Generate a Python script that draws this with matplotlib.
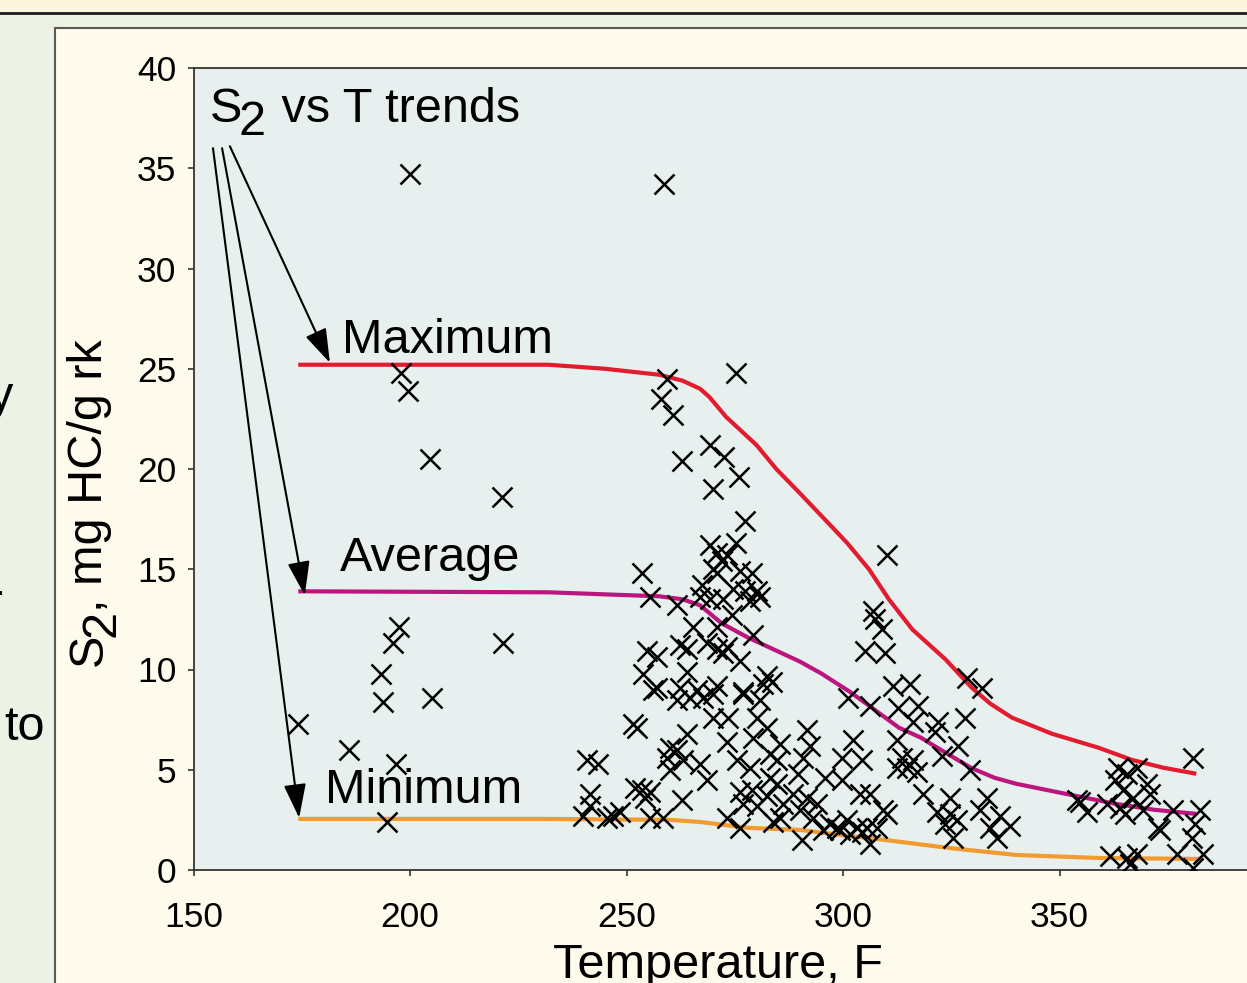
import matplotlib
matplotlib.use("Agg")
import matplotlib.pyplot as plt
from matplotlib.patches import Rectangle
from matplotlib.lines import Line2D

plt.rcParams['font.family'] = ['Liberation Sans', 'DejaVu Sans']

# S2 vs T 数据
temp_F = [
    # 左侧和上方的零散点
    200.0, 258.6, 275.3, 197.9, 199.5, 204.6, 221.2, 259.3, 257.9, 260.7,
    269.3, 272.5, 262.8, 276.0, 270.0, 174.2, 186.0, 193.8, 193.3, 196.1,
    197.5, 205.1, 196.8, 194.7, 221.5, 310.1,
    # 250-285 F 上部
    277.3, 269.3, 275.3, 270.9, 270.0, 272.0, 273.2, 270.9, 276.2, 279.0,
    253.6, 267.4, 274.6, 277.3, 280.1, 280.8, 278.5, 255.4, 261.6, 266.9,
    269.3, 272.3, 274.3, 265.3, 270.9, 279.2, 262.3, 263.9, 268.6, 270.9,
    272.3, 273.2, 254.7, 257.0, 276.2, 253.8, 263.9, 257.0, 262.3, 266.3,
    270.9, 282.4, 281.5, 276.9,
    # 240-285 F 下部
    256.1, 261.6, 264.6, 267.6, 270.0, 276.9, 280.8, 251.5, 252.4, 270.0,
    273.4, 280.1, 282.4, 279.2, 273.2, 263.9, 260.0, 261.6, 259.3, 263.0,
    266.9, 260.0, 240.9, 243.4, 275.5, 278.5, 283.1, 268.6, 251.9, 253.6,
    255.4, 254.3, 241.6, 241.6, 262.8, 276.2, 279.0, 282.4, 276.9, 280.1,
    239.9, 245.5, 248.5, 246.9, 255.4, 258.4, 273.2, 276.2, 283.8,
    # 285-340 F
    306.9, 309.0, 307.4, 305.0, 309.7, 328.6, 332.1, 311.5, 315.4, 301.1,
    283.6, 306.2, 312.7, 317.3, 328.1, 321.9, 316.1, 321.2, 291.7, 326.5,
    302.3, 312.4, 285.4, 292.4, 322.8, 299.7, 304.4, 313.6, 316.1, 312.4,
    314.7, 317.1, 329.3, 284.7, 290.7, 295.8, 299.7, 289.6, 283.1, 284.7,
    318.4, 324.7, 333.2, 306.2, 303.9, 288.4, 291.7, 294.0, 286.1, 290.0,
    309.2, 321.6, 324.7, 331.6, 336.2, 338.5, 323.5, 326.3, 333.9, 335.5,
    285.4, 293.1, 300.9, 298.6, 305.5, 307.8, 310.1, 290.5, 306.2, 325.4,
    303.2, 297.0, 299.3, 301.6, 304.4, 295.4,
    # 350-385 F
    380.8, 363.5, 365.6, 367.9, 362.8, 370.2, 364.6, 370.9, 354.0, 356.3,
    361.0, 364.0, 365.1, 369.3, 376.2, 382.4, 372.7, 373.2, 381.3, 380.6,
    383.1, 361.6, 365.6, 366.2, 367.9, 377.1, 380.8, 354.7, 367.0,
]
s2 = [
    34.7, 34.2, 24.8, 24.8, 23.9, 20.5, 18.6, 24.5, 23.5, 22.7,
    21.2, 20.6, 20.4, 19.6, 19.0, 7.3, 6.0, 8.4, 9.8, 11.3,
    12.1, 8.6, 5.3, 2.4, 11.3, 15.7,
    17.4, 16.2, 16.3, 15.8, 15.0, 15.4, 15.7, 14.8, 14.9, 14.8,
    14.8, 14.2, 14.0, 13.9, 13.9, 13.6, 13.4, 13.6, 13.2, 13.6,
    13.5, 13.5, 12.7, 12.1, 12.1, 11.7, 11.2, 11.0, 11.3, 11.0,
    10.8, 11.1, 10.9, 10.6, 10.4, 9.8, 9.9, 9.1, 9.1, 9.0,
    9.2, 9.7, 9.3, 8.9,
    9.0, 8.5, 8.6, 8.6, 8.8, 8.8, 8.5, 7.3, 7.1, 7.6,
    7.6, 7.6, 7.1, 6.6, 6.4, 6.8, 6.1, 6.0, 5.6, 5.5,
    5.3, 5.0, 5.5, 5.3, 5.5, 5.1, 5.8, 4.5, 4.1, 4.0,
    3.9, 3.6, 3.8, 3.2, 3.5, 3.9, 4.0, 3.7, 3.3, 3.2,
    2.7, 2.6, 2.9, 2.7, 2.6, 2.6, 2.6, 2.1, 2.4,
    12.9, 12.0, 12.5, 10.9, 10.8, 9.6, 9.1, 9.2, 9.3, 8.6,
    9.4, 8.2, 8.1, 8.2, 7.6, 7.4, 7.4, 6.9, 7.0, 6.2,
    6.5, 6.5, 6.3, 6.2, 5.7, 5.6, 5.5, 5.6, 5.5, 5.1,
    5.1, 4.9, 5.0, 5.5, 5.6, 4.6, 4.5, 4.8, 4.6, 4.3,
    3.8, 3.6, 3.6, 3.8, 3.8, 3.8, 3.6, 3.3, 3.3, 3.0,
    3.0, 2.9, 2.8, 3.0, 2.7, 2.2, 2.3, 2.5, 2.1, 1.6,
    2.6, 2.6, 2.5, 2.1, 2.1, 2.1, 2.8, 1.5, 1.3, 1.6,
    2.1, 2.3, 2.0, 1.8, 1.9, 2.0,
    5.6, 5.1, 4.8, 5.1, 4.5, 4.3, 4.0, 3.8, 3.5, 2.9,
    3.3, 3.1, 2.8, 3.0, 3.0, 3.0, 2.1, 2.0, 2.3, 1.6,
    0.8, 0.7, 0.6, 0.3, 0.8, 0.8, 0.1, 3.4, 3.6,
]

# 趋势线
max_T = [174.2, 200, 232, 245, 257.6, 263, 267, 269.1, 273, 280, 284.6, 290, 297.5,
         301, 306, 310.6, 316, 323.7, 329.7, 334, 339, 348.2, 359, 366.6, 374, 381.6]
max_S2 = [25.2, 25.2, 25.2, 25.0, 24.7, 24.4, 24.0, 23.6, 22.6, 21.2, 20.0, 18.8, 17.1,
          16.3, 15.0, 13.5, 12.0, 10.5, 9.1, 8.3, 7.6, 6.8, 6.1, 5.5, 5.1, 4.8]
avg_T = [174.2, 232, 257.6, 263, 267, 272, 278, 283, 290, 295, 301.5, 306, 312.9,
         318, 321, 329.5, 335, 340, 351.4, 363, 372, 381.6]
avg_S2 = [13.9, 13.85, 13.65, 13.5, 13.2, 12.3, 11.6, 11.1, 10.4, 9.8, 8.9, 8.2, 7.1,
          6.6, 6.2, 5.1, 4.6, 4.3, 3.8, 3.3, 3.0, 2.8]
min_T = [174.2, 230, 260, 266.8, 278.3, 290, 301.4, 306, 324.4, 340, 359, 383.2]
min_S2 = [2.55, 2.55, 2.5, 2.4, 2.1, 2.0, 1.7, 1.6, 1.1, 0.75, 0.6, 0.55]

x_ticks = [150, 200, 250, 300, 350, 400]
y_ticks = [0, 5, 10, 15, 20, 25, 30, 35, 40]

W, H = 1247, 983
FS = 35

fig = plt.figure(figsize=(W / 100, H / 100), dpi=100)
fig.patch.set_facecolor('#ECF3E4')

# 背景块
fig.add_artist(Rectangle((0, (H - 12) / H), 1, 12 / H, transform=fig.transFigure,
                         facecolor='#FDF6DE', edgecolor='none', zorder=-2))
fig.add_artist(Line2D([0, 1], [(H - 12.5) / H] * 2, transform=fig.transFigure,
                      color='#1c1c1c', lw=2, zorder=-1))
fig.add_artist(Rectangle((55 / W, -0.05), 1.2, (H - 28) / H + 0.05, transform=fig.transFigure,
                         facecolor='#FEFBEC', edgecolor='#5a5a5a', lw=1.5, zorder=-1))

# 左边被截掉的文字
fig.text(-11 / W, (H - 410) / H, "y", fontsize=FS, ha='left', va='baseline')
fig.text(-12.5 / W, (H - 606) / H, "-", fontsize=FS, ha='left', va='baseline')
fig.text(4 / W, (H - 740) / H, "to", fontsize=FS, ha='left', va='baseline')

ax = fig.add_axes([193.5 / W, (H - 870) / H, 1082.5 / W, 802 / H])
ax.set_facecolor('#E7F0EE')
ax.set_xlim(150, 400)
ax.set_ylim(0, 40)
ax.set_xticks(x_ticks)
ax.set_yticks(y_ticks)
for sp in ax.spines.values():
    sp.set_color('#333333')
    sp.set_linewidth(1.3)
ax.tick_params(axis='both', labelsize=25.5, length=4.5, width=1.2, color='#333333')
ax.tick_params(axis='x', pad=17.5)
ax.tick_params(axis='y', pad=8)

ax.plot(max_T, max_S2, color='#E31B2F', lw=3, solid_capstyle='butt', zorder=2)
ax.plot(avg_T, avg_S2, color='#BC157E', lw=3, solid_capstyle='butt', zorder=2)
ax.plot(min_T, min_S2, color='#F29B30', lw=3, solid_capstyle='butt', zorder=2)
ax.plot(temp_F, s2, 'x', color='black', ms=14, mew=1.8, zorder=3)

ax.set_xlabel("Temperature, F", fontsize=FS)
ax.xaxis.set_label_coords((718 - 193.5) / 1082.5, (870 - 943) / 802)

# 标注文字
ax.text(184.3, 25.8, "Maximum", fontsize=FS, va='baseline', ha='left')
ax.text(183.8, 14.9, "Average", fontsize=FS, va='baseline', ha='left')
ax.text(180.3, 3.35, "Minimum", fontsize=FS, va='baseline', ha='left')

# "S2 vs T trends"，2 与 S 同大小，向下偏移
sub = 12.5
t1 = ax.text(153.7, 37.3, "S", fontsize=FS, va='baseline', ha='left')
t2 = ax.annotate("2", xy=(1, 0), xycoords=t1, xytext=(-3, -sub), textcoords='offset pixels',
                 fontsize=FS, ha='left', va='bottom')
ax.annotate(" vs T trends", xy=(1, 0), xycoords=t2, xytext=(2, sub), textcoords='offset pixels',
            fontsize=FS, ha='left', va='bottom')

# y 轴标题
y1 = fig.text(67 / W, (H - 666) / H, "S", fontsize=FS, rotation=90, ha='left', va='bottom')
y2 = ax.annotate("2", xy=(0, 1), xycoords=y1, xytext=(sub, -3), textcoords='offset pixels',
                 fontsize=FS, rotation=90, ha='left', va='bottom', annotation_clip=False)
ax.annotate(", mg HC/g rk", xy=(0, 1), xycoords=y2, xytext=(-sub, -2), textcoords='offset pixels',
            fontsize=FS, rotation=90, ha='left', va='bottom', annotation_clip=False)

# 箭头
arrow = dict(arrowstyle='-|>,head_length=0.7,head_width=0.23', color='black', lw=1.5,
             shrinkA=0, shrinkB=0, mutation_scale=30)
ax.annotate("", xy=(181.5, 25.3), xytext=(158.4, 36.1), arrowprops=arrow)
ax.annotate("", xy=(175.7, 13.7), xytext=(156.6, 36.0), arrowprops=arrow)
ax.annotate("", xy=(174.4, 2.6), xytext=(154.5, 36.0), arrowprops=arrow)

fig.savefig("out.png", dpi=100, facecolor=fig.get_facecolor())
